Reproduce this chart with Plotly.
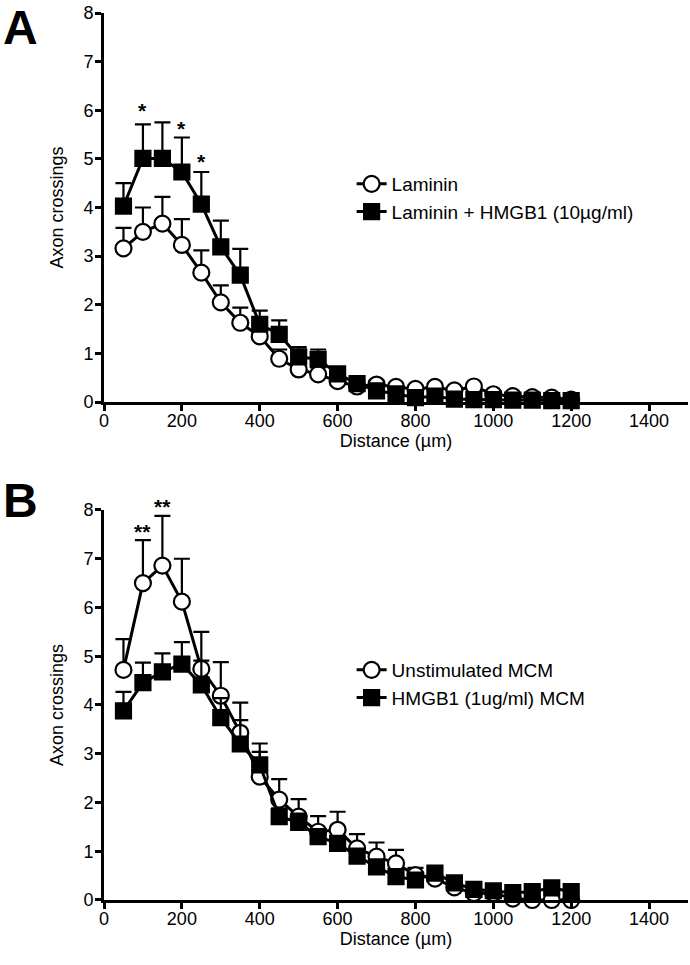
import plotly.graph_objects as go

distance = [50, 100, 150, 200, 250, 300, 350, 400, 450, 500, 550, 600, 650, 700,
            750, 800, 850, 900, 950, 1000, 1050, 1100, 1150, 1200]

# Panel A
laminin = [3.16, 3.50, 3.67, 3.23, 2.66, 2.05, 1.63, 1.35, 0.89, 0.67, 0.57, 0.43,
           0.32, 0.36, 0.31, 0.27, 0.31, 0.24, 0.32, 0.16, 0.12, 0.10, 0.09, 0.05]
laminin_err = [0.42, 0.50, 0.55, 0.53, 0.46, 0.35, 0.31, 0.30, 0.19, 0.15, 0.14, 0.12,
               0.10, 0.08, 0.07, 0.07, 0.07, 0.06, 0.06, 0.05, 0.04, 0.04, 0.03, 0.03]
hmgb1 = [4.03, 5.01, 5.01, 4.73, 4.07, 3.19, 2.61, 1.60, 1.39, 0.93, 0.88, 0.58,
         0.38, 0.23, 0.17, 0.09, 0.12, 0.06, 0.05, 0.05, 0.04, 0.04, 0.03, 0.03]
hmgb1_err = [0.47, 0.70, 0.74, 0.71, 0.66, 0.54, 0.54, 0.28, 0.29, 0.20, 0.20, 0.11,
             0.08, 0.06, 0.05, 0.04, 0.04, 0.03, 0.03, 0.03, 0.02, 0.02, 0.02, 0.02]
stars_a_x = [100, 200, 250]
stars_a_y = [6.0, 5.63, 4.95]
stars_a_text = ["*", "*", "*"]

# Panel B
unstim = [4.72, 6.50, 6.86, 6.12, 4.74, 4.19, 3.43, 2.53, 2.06, 1.71, 1.40, 1.44,
          1.06, 0.89, 0.75, 0.51, 0.44, 0.26, 0.14, 0.14, 0.03, 0.0, 0.0, 0.0]
unstim_err = [0.63, 0.88, 1.02, 0.88, 0.76, 0.69, 0.62, 0.68, 0.42, 0.36, 0.32, 0.37,
              0.29, 0.29, 0.28, 0.15, 0.12, 0.10, 0.06, 0.05, 0.04, 0.03, 0.03, 0.03]
hmgb1_mcm = [3.88, 4.46, 4.68, 4.84, 4.41, 3.74, 3.20, 2.77, 1.71, 1.59, 1.30, 1.16,
             0.90, 0.68, 0.48, 0.41, 0.55, 0.35, 0.22, 0.19, 0.15, 0.17, 0.25, 0.17]
hmgb1_mcm_err = [0.39, 0.41, 0.38, 0.45, 0.50, 0.40, 0.49, 0.27, 0.17, 0.18, 0.15, 0.14,
                 0.12, 0.10, 0.10, 0.09, 0.08, 0.08, 0.06, 0.05, 0.05, 0.05, 0.05, 0.05]
stars_b_x = [100, 150]
stars_b_y = [7.55, 8.07]
stars_b_text = ["**", "**"]

x_ticks = [0, 200, 400, 600, 800, 1000, 1200, 1400]
y_ticks = [0, 1, 2, 3, 4, 5, 6, 7, 8]
Y_MAX = 8

FONT = "Arial, Liberation Sans, Helvetica, sans-serif"

L, T = 104, 13
PLOT_W = 584
PLOT_H = 887
W, H = 690, 965

fig = go.Figure()


def add_series(x, y, err, name, symbol, fill, xa, ya, legend):
    fig.add_trace(go.Scatter(
        x=x, y=y, name=name, mode="lines+markers",
        xaxis=xa, yaxis=ya, legend=legend,
        line=dict(color="black", width=3),
        marker=dict(symbol=symbol, size=16 if symbol == "circle" else 15,
                    color=fill, line=dict(color="black", width=2.2)),
        error_y=dict(type="data", symmetric=False, array=err,
                     arrayminus=[0] * len(err), color="black",
                     thickness=2.2, width=8),
        cliponaxis=False,
    ))


add_series(distance, laminin, laminin_err, "Laminin", "circle", "white", "x", "y", "legend")
add_series(distance, hmgb1, hmgb1_err, "Laminin + HMGB1 (10µg/ml)", "square", "black", "x", "y", "legend")
add_series(distance, unstim, unstim_err, "Unstimulated MCM", "circle", "white", "x2", "y2", "legend2")
add_series(distance, hmgb1_mcm, hmgb1_mcm_err, "HMGB1 (1ug/ml) MCM", "square", "black", "x2", "y2", "legend2")

for xs, ys, ts, xr, yr in [(stars_a_x, stars_a_y, stars_a_text, "x", "y domain"),
                           (stars_b_x, stars_b_y, stars_b_text, "x2", "y2 domain")]:
    for xv, yv, tv in zip(xs, ys, ts):
        fig.add_annotation(x=xv, y=yv / Y_MAX, xref=xr, yref=yr, text="<b>%s</b>" % tv,
                           showarrow=False, yanchor="middle",
                           font=dict(size=21, color="black", family=FONT))

axis_common = dict(showline=True, linecolor="black", linewidth=3, ticks="outside",
                   ticklen=6, tickwidth=3, tickcolor="black", showgrid=False,
                   zeroline=False, automargin=False, ticklabeloverflow="allow",
                   tickfont=dict(size=18, color="black", family=FONT))
xaxis_extra = dict(ticklabelstandoff=-6)
yaxis_extra = dict(ticklabelstandoff=-2)

fig.update_layout(
    width=W, height=H,
    margin=dict(l=L, r=W - L - PLOT_W, t=T, b=H - T - PLOT_H),
    paper_bgcolor="white", plot_bgcolor="white",
    font=dict(family=FONT, color="black", size=18),
    xaxis=dict(domain=[0, 1], anchor="y", range=[0, 1500], tickvals=x_ticks,
               title=dict(text="Distance (µm)", font=dict(size=18), standoff=1),
               **axis_common, **xaxis_extra),
    yaxis=dict(domain=[0.5614, 1], anchor="x", range=[0, Y_MAX], tickvals=y_ticks,
               title=dict(text="Axon crossings", font=dict(size=18), standoff=16),
               **axis_common, **yaxis_extra),
    xaxis2=dict(domain=[0, 1], anchor="y2", range=[0, 1500], tickvals=x_ticks,
                title=dict(text="Distance (µm)", font=dict(size=18), standoff=1),
                **axis_common, **xaxis_extra),
    yaxis2=dict(domain=[0, 0.4397], anchor="x2", range=[0, Y_MAX], tickvals=y_ticks,
                title=dict(text="Axon crossings", font=dict(size=18), standoff=16),
                **axis_common, **yaxis_extra),
    legend=dict(x=0.424, y=(900 - 165) / PLOT_H, xanchor="left", yanchor="top",
                bgcolor="rgba(0,0,0,0)", font=dict(size=19, family=FONT),
                tracegroupgap=0, itemwidth=30),
    legend2=dict(x=0.424, y=(900 - 651) / PLOT_H, xanchor="left", yanchor="top",
                 bgcolor="rgba(0,0,0,0)", font=dict(size=19, family=FONT),
                 tracegroupgap=0, itemwidth=30),
    showlegend=True,
)

fig.add_annotation(x=(20.5 - L) / PLOT_W, y=(900 - 0) / PLOT_H, xref="paper", yref="paper",
                   text="<b>A</b>", showarrow=False, xanchor="center", yanchor="top",
                   borderpad=0, font=dict(size=48, family=FONT, color="black"))
fig.add_annotation(x=(20.5 - L) / PLOT_W, y=(900 - 501) / PLOT_H, xref="paper", yref="paper",
                   text="<b>B</b>", showarrow=False, xanchor="center", yanchor="middle",
                   borderpad=0, font=dict(size=48, family=FONT, color="black"))

fig.write_html("out.html", config={"displayModeBar": False},
               post_script="document.body.style.margin='0px';")
